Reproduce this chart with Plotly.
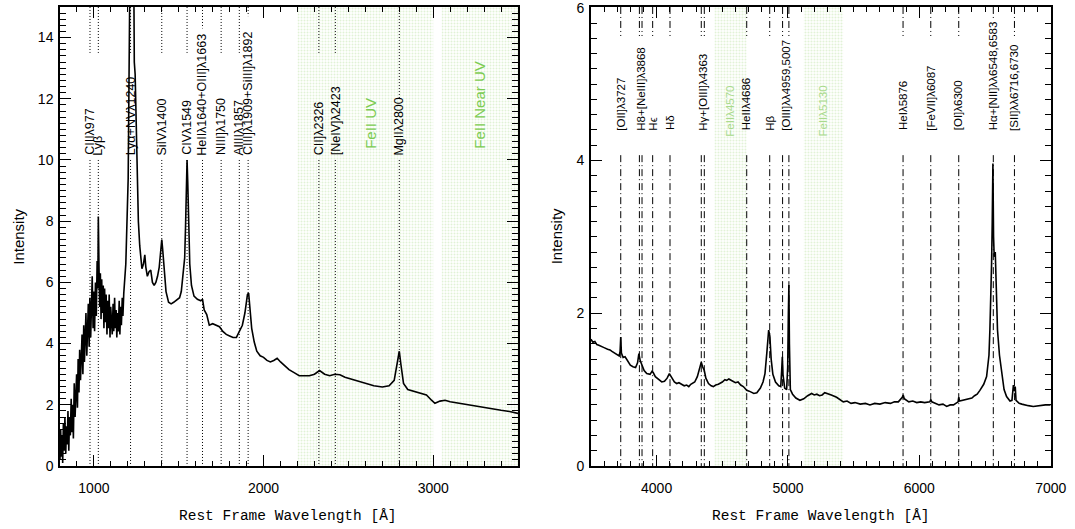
import plotly.graph_objects as go

# ---------------- DATA ----------------
# Left panel: UV spectrum
uv_wave = [800, 804, 808, 812, 816, 820, 825, 829, 834, 838, 843, 847, 852, 856, 861, 866, 870, 875, 879, 884,
           889, 893, 898, 903, 907, 912, 916, 921, 926, 930, 935, 940, 944, 949, 953, 958, 962, 967, 972, 976,
           981, 986, 990, 995, 1000, 1004, 1009, 1014, 1019, 1023, 1026, 1030, 1034, 1038, 1042, 1046, 1050,
           1055, 1059, 1063, 1068, 1072, 1077, 1081, 1086, 1090, 1095, 1099, 1104, 1108, 1113, 1117, 1122, 1126,
           1131, 1135, 1140, 1144, 1149, 1153, 1158, 1162, 1167, 1171, 1176, 1188, 1202, 1208, 1212, 1235, 1238,
           1243, 1250, 1255, 1262, 1270, 1283, 1292, 1300, 1306, 1315, 1325, 1335, 1345, 1355, 1365, 1375, 1385,
           1395, 1400, 1405, 1415, 1425, 1440, 1455, 1470, 1490, 1505, 1515, 1525, 1535, 1540, 1545, 1549, 1553,
           1558, 1565, 1575, 1590, 1610, 1630, 1640, 1650, 1665, 1680, 1700, 1720, 1740, 1760, 1780, 1800, 1820,
           1840, 1860, 1875, 1890, 1905, 1912, 1920, 1930, 1945, 1960, 1980, 2000, 2020, 2040, 2060, 2080, 2100,
           2120, 2150, 2180, 2210, 2240, 2270, 2300, 2330, 2360, 2390, 2420, 2450, 2480, 2510, 2550, 2600, 2650,
           2700, 2740, 2770, 2790, 2800, 2810, 2825, 2850, 2880, 2920, 2960, 2990, 3010, 3040, 3070, 3100, 3150,
           3200, 3250, 3300, 3350, 3400, 3450, 3500]
uv_flux = [0.2, 1.2, 0.3, 1.0, 0.1, 1.4, 0.5, 1.6, 0.4, 1.3, 0.7, 1.8, 0.5, 1.6, 1.0, 2.2, 1.1, 2.0, 0.9, 2.7,
           1.6, 2.6, 3.0, 1.9, 3.5, 2.4, 3.8, 2.8, 3.6, 4.3, 3.0, 4.6, 3.4, 4.0, 5.0, 3.6, 4.7, 5.3, 3.9, 5.5,
           4.2, 5.1, 6.2, 4.5, 5.7, 4.4, 6.0, 4.9, 6.7, 5.8, 8.15, 6.5, 5.2, 6.3, 4.8, 6.1, 5.0, 5.9, 4.5, 5.8,
           4.7, 5.6, 4.3, 5.4, 4.5, 5.6, 4.2, 5.2, 4.7, 4.3, 5.3, 4.4, 5.5, 4.5, 5.1, 4.2, 5.0, 4.4, 5.4, 4.3,
           5.2, 4.6, 5.5, 4.9, 5.65, 6.6, 9.4, 14.0, 16.0, 16.0, 13.2, 12.8, 11.0, 9.3, 8.0, 7.2, 6.45, 6.6, 6.9,
           6.5, 6.2, 6.35, 6.4, 6.0, 5.9, 6.0, 6.2, 6.5, 7.3, 7.4, 7.1, 6.2, 5.7, 5.35, 5.3, 5.35, 5.45, 5.5,
           5.7, 6.2, 6.8, 7.8, 9.2, 10.0, 9.3, 7.8, 6.6, 5.9, 5.55, 5.45, 5.4, 5.45, 5.1, 4.95, 4.6, 4.65, 4.6,
           4.55, 4.4, 4.3, 4.25, 4.2, 4.2, 4.4, 4.6, 5.0, 5.6, 5.65, 5.2, 4.5, 4.05, 3.75, 3.6, 3.55, 3.45, 3.4,
           3.45, 3.52, 3.4, 3.3, 3.15, 3.05, 2.95, 2.95, 2.95, 3.0, 3.12, 3.0, 2.95, 3.0, 2.98, 2.9, 2.85, 2.78,
           2.68, 2.62, 2.58, 2.62, 2.8, 3.4, 3.75, 3.3, 2.7, 2.5, 2.45, 2.4, 2.32, 2.15, 2.05, 2.12, 2.15, 2.1,
           2.05, 2.0, 1.95, 1.92, 1.85, 1.82, 1.78, 1.72]

# Right panel: optical spectrum
opt_wave = [3500, 3515, 3530, 3545, 3560, 3580, 3600, 3627, 3645, 3660, 3690, 3715, 3722, 3727, 3732, 3745, 3760,
            3780, 3800, 3820, 3840, 3855, 3865, 3875, 3890, 3905, 3925, 3950, 3965, 3975, 3990, 4010, 4039, 4060,
            4080, 4097, 4115, 4135, 4153, 4170, 4190, 4210, 4229, 4245, 4260, 4290, 4310, 4325, 4340, 4350, 4363,
            4375, 4395, 4415, 4432, 4450, 4470, 4500, 4520, 4534, 4550, 4570, 4600, 4620, 4640, 4660, 4686, 4705,
            4720, 4740, 4763, 4790, 4810, 4825, 4840, 4853, 4862, 4872, 4885, 4905, 4930, 4945, 4952, 4957, 4962,
            4975, 4990, 4998, 5003, 5007, 5011, 5018, 5035, 5060, 5091, 5120, 5150, 5180, 5200, 5220, 5240, 5260,
            5280, 5300, 5330, 5370, 5421, 5450, 5480, 5510, 5550, 5590, 5624, 5660, 5700, 5740, 5780, 5810, 5840,
            5870, 5877, 5885, 5920, 5950, 5980, 6010, 6040, 6080, 6087, 6095, 6120, 6150, 6180, 6208, 6235, 6260,
            6295, 6300, 6306, 6330, 6350, 6375, 6400, 6420, 6440, 6461, 6490, 6512, 6530, 6537, 6545, 6550, 6555,
            6560, 6565, 6570, 6578, 6583, 6590, 6595, 6610, 6626, 6645, 6664, 6690, 6705, 6712, 6716, 6722, 6730,
            6736, 6760, 6780, 6800, 6830, 6867, 6900, 6930, 6960, 7000]
opt_flux = [1.66, 1.62, 1.63, 1.59, 1.58, 1.56, 1.55, 1.53, 1.52, 1.5, 1.47, 1.44, 1.5, 1.69, 1.48, 1.42, 1.43,
            1.38, 1.32, 1.30, 1.29, 1.35, 1.47, 1.38, 1.32, 1.25, 1.21, 1.2, 1.24, 1.22, 1.17, 1.14, 1.10, 1.11,
            1.15, 1.21, 1.15, 1.10, 1.08, 1.09, 1.07, 1.05, 1.06, 1.04, 1.07, 1.1, 1.17, 1.27, 1.36, 1.3, 1.25,
            1.15, 1.08, 1.05, 1.04, 1.06, 1.07, 1.1, 1.13, 1.12, 1.14, 1.12, 1.09, 1.1, 1.06, 1.04, 0.99, 0.98,
            0.97, 0.95, 0.96, 1.02, 1.1, 1.21, 1.5, 1.78, 1.7, 1.4, 1.2, 1.1, 1.05, 1.04, 1.25, 1.43, 1.2,
            1.02, 1.0, 1.3, 2.0, 2.37, 1.6, 1.0, 0.94, 0.89, 0.86, 0.88, 0.92, 0.95, 0.93, 0.94, 0.92, 0.93,
            0.96, 0.95, 0.93, 0.9, 0.84, 0.85, 0.82, 0.83, 0.81, 0.82, 0.80, 0.82, 0.81, 0.83, 0.82, 0.84, 0.84,
            0.9, 0.93, 0.88, 0.84, 0.85, 0.83, 0.84, 0.83, 0.84, 0.87, 0.84, 0.82, 0.80, 0.81, 0.78, 0.80, 0.8,
            0.84, 0.9, 0.85, 0.86, 0.86, 0.88, 0.89, 0.92, 0.94, 0.99, 1.07, 1.17, 1.45, 1.78, 2.2, 2.65, 3.2,
            3.96, 3.0, 2.74, 2.8, 2.47, 2.0, 1.78, 1.45, 1.25, 1.0, 0.91, 0.85, 0.86, 1.02, 1.06, 0.98, 1.04,
            0.86, 0.82, 0.81, 0.8, 0.79, 0.78, 0.79, 0.79, 0.8, 0.8]

# Emission line identifications
uv_lines = [977, 1026, 1216, 1400, 1549, 1640, 1750, 1857, 1909, 2326, 2423, 2800]
uv_labels = ["CIIIλ977", "Lyβ", "Lyα+NVλ1240", "SiIVλ1400", "CIVλ1549", "HeIIλ1640+OIII]λ1663",
             "NIII]λ1750", "AlIIIλ1857", "CIII]λ1909+SiIII]λ1892", "CII]λ2326", "[NeIV]λ2423", "MgIIλ2800"]

opt_line_groups = [[3727], [3869, 3889], [3970], [4102], [4340, 4363], [4686], [4861], [4959, 5007],
                   [5876], [6087], [6300], [6563], [6724]]
opt_labels = ["[OII]λ3727", "H8+[NeIII]λ3868", "Hϵ", "Hδ", "Hγ+[OIII]λ4363", "HeIIλ4686", "Hβ",
              "[OIII]λλ4959,5007", "HeIλ5876", "[FeVII]λ6087", "[OI]λ6300", "Hα+[NII]λλ6548,6583",
              "[SII]λλ6716,6730"]

# FeII template windows
uv_fe_ranges = [(2200, 3000), (3050, 3500)]
uv_fe_labels = ["FeII UV", "FeII Near UV"]
opt_fe_ranges = [(4440, 4686), (5120, 5420)]
opt_fe_labels = ["FeIIλ4570", "FeIIλ5130"]

# ---------------- STYLE ----------------
BLACK = "#000000"
GREEN_TXT = "#7ccc52"
GREEN_TXT2 = "#a9da8c"
GREEN_DOT = "#c2e4ac"
SANS = "Liberation Sans, Arial"
TICK_FONT = dict(family=SANS, size=14, color=BLACK)
TITLE_FONT = dict(family="Liberation Mono, Courier New", size=14.5, color=BLACK)

uv_top_end = [13.5, 13.5, 13.5, 13.5, 13.5, 14.3, 13.5, 13.5, 14.7, 13.5, 13.5, 12.0]
opt_top_end = [5.63] * 11 + [5.85, 5.63]

fig = go.Figure()

for (a, b) in uv_fe_ranges:
    fig.add_trace(go.Scatter(x=[a, b, b, a, a], y=[0, 0, 15, 15, 0], mode="lines", fill="toself",
                             line=dict(width=0), fillcolor="rgba(0,0,0,0)",
                             fillpattern=dict(shape=".", fgcolor=GREEN_DOT, bgcolor="rgba(255,255,255,0)",
                                              size=3, solidity=0.35),
                             hoverinfo="skip", showlegend=False, xaxis="x", yaxis="y"))
for (a, b) in opt_fe_ranges:
    fig.add_trace(go.Scatter(x=[a, b, b, a, a], y=[0, 0, 6.01, 6.01, 0], mode="lines", fill="toself",
                             line=dict(width=0), fillcolor="rgba(0,0,0,0)",
                             fillpattern=dict(shape=".", fgcolor=GREEN_DOT, bgcolor="rgba(255,255,255,0)",
                                              size=3, solidity=0.35),
                             hoverinfo="skip", showlegend=False, xaxis="x2", yaxis="y2"))

fig.add_trace(go.Scatter(x=uv_wave, y=uv_flux, mode="lines", line=dict(color=BLACK, width=1.6),
                         showlegend=False, xaxis="x", yaxis="y"))
fig.add_trace(go.Scatter(x=opt_wave, y=opt_flux, mode="lines", line=dict(color=BLACK, width=1.6),
                         showlegend=False, xaxis="x2", yaxis="y2"))

shapes = []
annotations = []

for wl, lab, top in zip(uv_lines, uv_labels, uv_top_end):
    shapes.append(dict(type="line", xref="x", yref="y", x0=wl, x1=wl, y0=15, y1=top,
                       line=dict(color=BLACK, width=1, dash="1px,2px")))
    shapes.append(dict(type="line", xref="x", yref="y", x0=wl, x1=wl, y0=10.0, y1=0,
                       line=dict(color=BLACK, width=1, dash="1px,2px")))
    annotations.append(dict(x=wl, y=10.12, xref="x", yref="y", text=lab, textangle=-90, showarrow=False,
                            xanchor="center", yanchor="bottom", borderpad=0,
                            font=dict(family=SANS, size=12.5, color=BLACK)))

for grp, lab, top in zip(opt_line_groups, opt_labels, opt_top_end):
    for wl in grp:
        shapes.append(dict(type="line", xref="x2", yref="y2", x0=wl, x1=wl, y0=6.01, y1=top,
                           line=dict(color=BLACK, width=1, dash="7px,3px,1px,3px")))
        shapes.append(dict(type="line", xref="x2", yref="y2", x0=wl, x1=wl, y0=4.07, y1=0,
                           line=dict(color=BLACK, width=1, dash="7px,3px,1px,3px")))
    xm = sum(grp) / len(grp)
    annotations.append(dict(x=xm, y=4.38, xref="x2", yref="y2", text=lab, textangle=-90, showarrow=False,
                            xanchor="center", yanchor="bottom", borderpad=0,
                            font=dict(family=SANS, size=11.5, color=BLACK)))

for (a, b), lab in zip(uv_fe_ranges, uv_fe_labels):
    annotations.append(dict(x=(a + b) / 2 + (30 if a < 3000 else 0), y=10.33, xref="x", yref="y", text=lab,
                            textangle=-90, showarrow=False, xanchor="center", yanchor="bottom", borderpad=0,
                            font=dict(family=SANS, size=15, color=GREEN_TXT)))
for (a, b), lab in zip(opt_fe_ranges, opt_fe_labels):
    annotations.append(dict(x=(a + b) / 2, y=4.3, xref="x2", yref="y2", text=lab,
                            textangle=-90, showarrow=False, xanchor="center", yanchor="bottom", borderpad=0,
                            font=dict(family=SANS, size=11.5, color=GREEN_TXT2)))

for xc in [0.268, 0.764]:
    annotations.append(dict(x=xc, y=0.005, xref="paper", yref="paper", text="Rest Frame Wavelength [Å]",
                            showarrow=False, xanchor="center", yanchor="bottom", font=TITLE_FONT))
for xc in [0.017, 0.518]:
    annotations.append(dict(x=xc, y=0.553, xref="paper", yref="paper", text="Intensity", textangle=-90,
                            showarrow=False, xanchor="center", yanchor="middle",
                            font=dict(family=SANS, size=15, color=BLACK)))

axis_common = dict(showgrid=False, zeroline=False, showline=True, linecolor=BLACK, linewidth=1.5,
                   mirror="allticks", ticks="inside", ticklen=11, tickwidth=1.2, tickcolor=BLACK,
                   tickfont=TICK_FONT, automargin=False, ticklabeloverflow="allow")

XD1, XD2, YD = [0.0558, 0.4819], [0.5497, 0.9774], [0.1191, 0.9868]
xminor = dict(dtick=100, ticklen=5, ticks="inside", tickcolor=BLACK, tickwidth=1)
yminor = dict(dtick=0.2, ticklen=6, ticks="inside", tickcolor=BLACK, tickwidth=1)

fig.update_layout(
    width=1075, height=529,
    margin=dict(l=0, r=0, t=0, b=0),
    paper_bgcolor="white", plot_bgcolor="white",
    shapes=shapes, annotations=annotations,
    xaxis=dict(domain=XD1, range=[800, 3500], dtick=1000, tick0=0, minor=xminor, anchor="y",
               ticklabelstandoff=8, **axis_common),
    yaxis=dict(domain=YD, range=[0, 15], dtick=2, tick0=0, minor=yminor, anchor="x",
               ticklabelstandoff=2, **axis_common),
    xaxis2=dict(domain=XD2, range=[3500, 7000], dtick=1000, tick0=0, minor=xminor, anchor="y2",
                ticklabelstandoff=8, **axis_common),
    yaxis2=dict(domain=YD, range=[0, 6.01], dtick=2, tick0=0, minor=yminor, anchor="x2",
                ticklabelstandoff=2, **axis_common),
)

fig.write_html("out.html")
